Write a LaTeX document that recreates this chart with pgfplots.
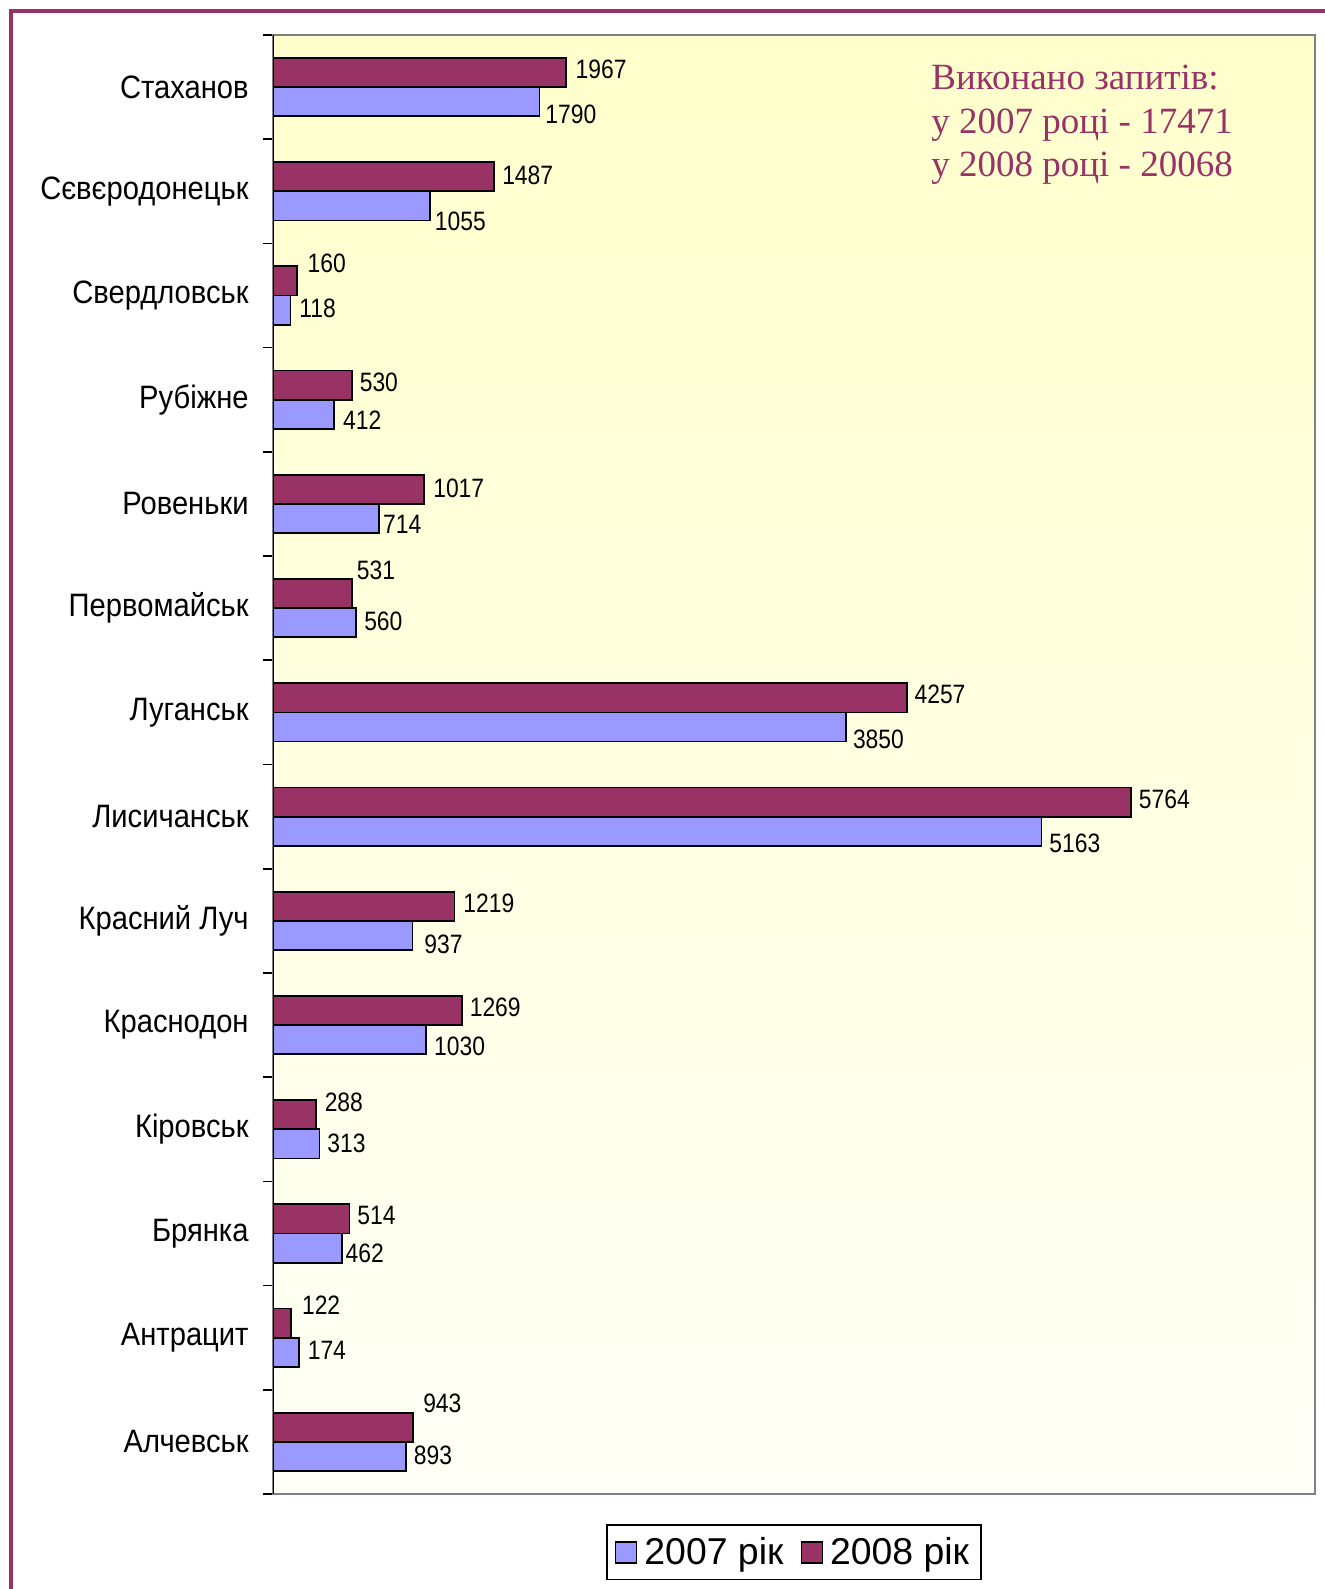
\documentclass[border=0pt]{standalone}
\usepackage{pgfplots}
\pgfplotsset{compat=1.18}
\usepackage{pgfplotstable}
\usepackage{fontspec}
\setmainfont{Liberation Sans}
\newfontfamily\narrowf[FakeStretch=0.86]{Liberation Sans}
\newfontfamily\catf[FakeStretch=0.9]{Liberation Sans}
\newfontfamily\seriff{Liberation Serif}
\definecolor{cA}{HTML}{9999FF}
\definecolor{cB}{HTML}{993366}
\definecolor{bgtop}{HTML}{FFFFCC}
\definecolor{bgbot}{HTML}{FFFFF7}

\pgfplotstableread{
pos val lab dx dy
0 893 893 3.5 0.5
1 174 174 4 1
2 462 462 1.5 -2.5
3 313 313 3.5 0.5
4 1030 1030 3.5 -3.5
5 937 937 5.5 -4.5
6 5163 5163 3.5 -6
7 3850 3850 3 -6
8 560 560 3.5 0.5
9 714 714 1.5 -3
10 412 412 4 -3
11 118 118 4 1
12 1055 1055 2 -7.8
13 1790 1790 2.5 -6.3
}\dataA

\pgfplotstableread{
pos val lab dx dy
0 943 943 4.5 12
1 122 122 5 9
2 514 514 3.5 1.5
3 288 288 4 6
4 1269 1269 3.5 1.5
5 1219 1219 4 1.5
6 5764 5764 3.5 1.5
7 4257 4257 3.5 1.5
8 531 531 2 11.7
9 1017 1017 4 0.5
10 530 530 3.5 1.3
11 160 160 5 9
12 1487 1487 3.5 0.8
13 1967 1967 4.5 1.5
}\dataB

\begin{document}
\begin{tikzpicture}
\useasboundingbox (0,0) rectangle (662pt,-794.5pt);
\fill[white] (0,0) rectangle (662pt,-794.5pt);
\draw[cB, line width=2pt] (5.25pt,-5.75pt) rectangle (700pt,-900pt);
\begin{axis}[
  at={(136.5pt,-17.5pt)}, anchor=north west,
  width=521pt, height=729.5pt, scale only axis,
  xmin=0, xmax=7000, ymin=-0.5, ymax=13.5,
  xtick=\empty,
  ytick={0,...,13},
  yticklabels={Алчевськ,Антрацит,Брянка,Кіровськ,Краснодон,Красний Луч,Лисичанськ,Луганськ,Первомайськ,Ровеньки,Рубіжне,Свердловськ,Сєвєродонецьк,Стаханов},
  minor ytick={-0.5,0.5,...,13.5},
  ytick pos=left,
  tick align=outside,
  major tick length=0pt,
  minor tick length=5pt,
  minor tick style={black, line width=0.8pt},
  yticklabel style={font=\catf\fontsize{16.2}{19}\selectfont, inner sep=0pt, xshift=-12pt, anchor=east},
  axis line style={draw=black!50, line width=1pt},
  axis background/.style={shade, top color=bgtop, bottom color=bgbot},
  xbar, bar width=0.28,
  point meta=explicit symbolic,
  nodes near coords,
  visualization depends on={\thisrow{dx}\as\mydx},
  visualization depends on={\thisrow{dy}\as\mydy},
  every node near coord/.append style={font=\narrowf\fontsize{13.3}{15}\selectfont, anchor=west, inner sep=0pt, xshift=\mydx*1pt, yshift=\mydy*1pt, text=black},
  legend columns=2,
  legend style={at={(axis description cs:0.5,-0.0398)}, anchor=center, draw=black, line width=0.6pt, font=\fontsize{18.7}{22}\selectfont, inner xsep=4pt, inner ysep=4pt, /tikz/every even column/.append style={column sep=6.5pt}},
  legend image code/.code={\draw[#1, draw=black, line width=0.6pt] (2pt,-5.5pt) rectangle (12.5pt,5pt); \path (14pt,0pt);},
]
\addplot[fill=cA, draw=black, line width=0.9pt, bar shift=-0.14] table[x=val, y=pos, meta=lab] {\dataA};
\addplot[fill=cB, draw=black, line width=0.9pt, bar shift=0.14] table[x=val, y=pos, meta=lab] {\dataB};
\legend{2007 рік, 2008 рік}
\draw[black, line width=1pt] (rel axis cs:0,0) -- (rel axis cs:0,1);
\end{axis}
\begin{scope}[every node/.style={anchor=base west, inner sep=0pt, text=cB, font=\seriff\fontsize{18.5}{21}\selectfont}]
\node at (465.5pt,-45pt) {Виконано запитів:};
\node at (465.5pt,-66.75pt) {у 2007 році - 17471};
\node at (465.5pt,-88.5pt) {у 2008 році - 20068};
\end{scope}
\end{tikzpicture}
\end{document}
